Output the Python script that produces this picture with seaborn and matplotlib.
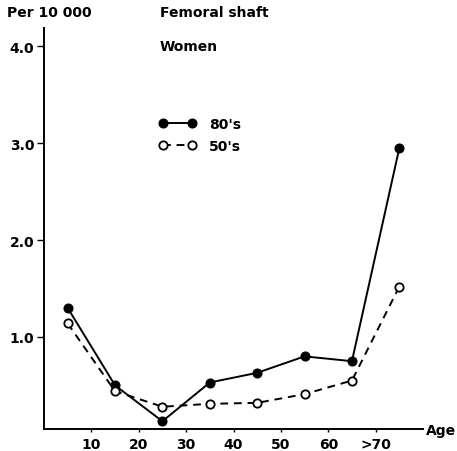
import matplotlib
matplotlib.use("Agg")
import matplotlib.pyplot as plt
import seaborn as sns
import pandas as pd

sns.set_style("white")
plt.rcParams['font.family'] = ['DejaVu Sans']
plt.rcParams['font.weight'] = 'bold'
plt.rcParams['text.color'] = 'black'
plt.rcParams['xtick.color'] = 'black'
plt.rcParams['ytick.color'] = 'black'
plt.rcParams['axes.labelcolor'] = 'black'

ages = [5, 15, 25, 35, 45, 55, 65, 75]
rate_80s = [1.30, 0.50, 0.13, 0.53, 0.63, 0.80, 0.75, 2.95]
rate_50s = [1.14, 0.44, 0.28, 0.31, 0.32, 0.41, 0.55, 1.52]
xtick_vals = [10, 20, 30, 40, 50, 60, 70]
xtick_labels = ["10", "20", "30", "40", "50", "60", ">70"]
ytick_vals = [1.0, 2.0, 3.0, 4.0]
ytick_labels = ["1.0", "2.0", "3.0", "4.0"]

df80 = pd.DataFrame({"age": ages, "rate": rate_80s})
df50 = pd.DataFrame({"age": ages, "rate": rate_50s})

fig = plt.figure(figsize=(4.57, 4.52), dpi=100)
ax = fig.add_axes([44/457, 22/452, (423-44)/457, (430-29)/452])

sns.lineplot(data=df80, x="age", y="rate", ax=ax, color="black", lw=1.4,
             marker="o", markersize=6.5, markerfacecolor="black",
             markeredgecolor="black", label="80's")
sns.lineplot(data=df50, x="age", y="rate", ax=ax, color="black", lw=1.4,
             linestyle=(0, (4, 3)), marker="o", markersize=6,
             markerfacecolor="white", markeredgecolor="black",
             markeredgewidth=1.3, label="50's")

ax.set_xlim(0, 80)
ax.set_ylim(0.05, 4.19)
ax.set_xticks(xtick_vals)
ax.set_xticklabels(xtick_labels, fontsize=10, fontweight='bold')
ax.set_yticks(ytick_vals)
ax.set_yticklabels(ytick_labels, fontsize=10, fontweight='bold')
ax.tick_params(axis='x', direction='out', length=2.5, width=1, pad=3, bottom=True, colors='black')
ax.tick_params(axis='y', direction='out', length=5, width=1, pad=2, left=True, colors='black')
for s in ["top", "right"]:
    ax.spines[s].set_visible(False)
for s in ["left", "bottom"]:
    ax.spines[s].set_color("black")
    ax.spines[s].set_linewidth(1.4)
ax.set_xlabel("")
ax.set_ylabel("")

leg = ax.legend(loc="upper left", bbox_to_anchor=(0.27, 0.81), frameon=False,
                numpoints=2, handlelength=2.7, handletextpad=0.9,
                labelspacing=0.6, prop={'size': 10, 'weight': 'bold'})
for t in leg.get_texts():
    t.set_color('black')

fig.text(7/457, 1 - 13/452, "Per 10 000", fontsize=10, fontweight='bold', va='center', ha='left', color='black')
fig.text(160/457, 1 - 13/452, "Femoral shaft", fontsize=10, fontweight='bold', va='center', ha='left', color='black')
fig.text(160/457, 1 - 47/452, "Women", fontsize=10, fontweight='bold', va='center', ha='left', color='black')
fig.text(426/457, 1 - 431/452, "Age", fontsize=10, fontweight='bold', va='center', ha='left', color='black')

fig.savefig("out.png", dpi=100)
